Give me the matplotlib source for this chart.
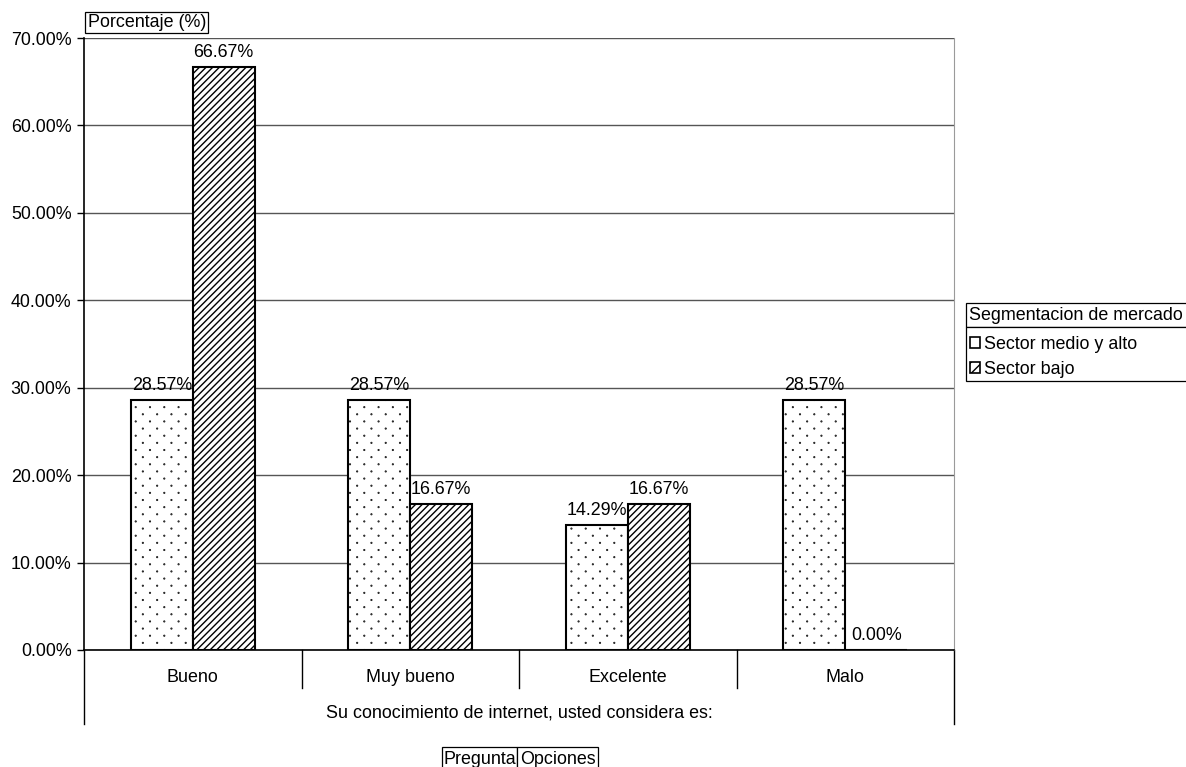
import matplotlib
matplotlib.use("Agg")
import numpy as np
import matplotlib.pyplot as plt
from matplotlib import hatch as mhatch
from matplotlib.path import Path
from matplotlib.patches import Patch, Rectangle
from matplotlib.lines import Line2D

plt.rcParams['font.family'] = ['Liberation Sans', 'DejaVu Sans']
plt.rcParams['hatch.linewidth'] = 1.0


class StaggeredDots(mhatch.HatchPatternBase):
    """Sparse staggered dot pattern for '.' (like the Excel dotted fill)."""
    def __init__(self, hatch, density):
        n = hatch.count('.')
        self.ncols = 7 * n
        self.nrows = 2 * self.ncols
        if n == 0:
            self.num_vertices = 0
            return
        circ = Path.unit_circle()
        self.shape_vertices = circ.vertices * 0.0035
        self.shape_codes = circ.codes
        npts = 0
        for row in range(self.nrows + 1):
            npts += (self.ncols + 1) if row % 2 == 0 else self.ncols
        self.num_vertices = npts * len(self.shape_vertices)

    def set_vertices_and_codes(self, vertices, codes):
        dx = 1.0 / self.ncols
        dy = 1.0 / self.nrows
        vparts, cparts = [], []
        for row in range(self.nrows + 1):
            if row % 2 == 0:
                cols = np.linspace(0, 1, self.ncols + 1)
            else:
                cols = np.linspace(dx / 2, 1 - dx / 2, self.ncols)
            for c in cols:
                vparts.append(self.shape_vertices + [c, row * dy])
                cparts.append(self.shape_codes)
        np.concatenate(vparts, out=vertices)
        np.concatenate(cparts, out=codes)


mhatch._hatch_types = [StaggeredDots if t is mhatch.SmallFilledCircles else t
                       for t in mhatch._hatch_types]

categories = ["Bueno", "Muy bueno", "Excelente", "Malo"]
series_names = ["Sector medio y alto", "Sector bajo"]
medio_alto = [28.57, 28.57, 14.29, 28.57]
bajo = [66.67, 16.67, 16.67, 0.00]
yticks = [0, 10, 20, 30, 40, 50, 60, 70]
ytick_labels = ["0.00%", "10.00%", "20.00%", "30.00%", "40.00%", "50.00%", "60.00%", "70.00%"]

W, H = 1186, 767
fig = plt.figure(figsize=(W / 100, H / 100), dpi=100)
L, R, T, B = 84, 954, 38, 650
ax = fig.add_axes([L / W, 1 - B / H, (R - L) / W, (B - T) / H])

FS = 12.9
x = list(range(len(categories)))
bw = 0.285
b1 = ax.bar([i - bw / 2 for i in x], medio_alto, width=bw, facecolor='white',
            edgecolor='black', linewidth=1.5, hatch='.', zorder=3)
b2 = ax.bar([i + bw / 2 for i in x], bajo, width=bw, facecolor='white',
            edgecolor='black', linewidth=1.5, hatch='/////', zorder=3)
ax.bar_label(b1, labels=[f"{v:.2f}%" for v in medio_alto], padding=4.5, fontsize=FS)
ax.bar_label(b2, labels=[f"{v:.2f}%" for v in bajo], padding=4.5, fontsize=FS)

ax.set_xlim(-0.5, len(categories) - 0.5)
ax.set_ylim(0, 70)
ax.set_yticks(yticks)
ax.set_yticklabels(ytick_labels, fontsize=FS)
ax.tick_params(axis='y', direction='out', length=5, width=1, pad=4)
ax.set_xticks([])
ax.yaxis.grid(True, color='#555555', linewidth=1.0, zorder=0)
ax.set_axisbelow(True)
ax.spines['top'].set_visible(False)
ax.spines['right'].set_color('#9a9a9a')
ax.spines['left'].set_linewidth(1.2)
ax.spines['bottom'].set_linewidth(1.2)

# Category area below the axis (pivot-chart style)
tr = ax.get_xaxis_transform()
ph = B - T
for k in range(len(categories) + 1):
    xb = -0.5 + k
    y_end = -(724 - B) / ph if k in (0, len(categories)) else -(688 - B) / ph
    ax.add_line(Line2D([xb, xb], [0, y_end], transform=tr, color='black',
                       linewidth=1.0, clip_on=False))
for i, c in enumerate(categories):
    ax.text(i, -(677 - B) / ph, c, transform=tr, ha='center', va='center', fontsize=FS)
ax.text((len(categories) - 1) / 2, -(713 - B) / ph,
        "Su conocimiento de internet, usted considera es:", transform=tr,
        ha='center', va='center', fontsize=FS)

# Field buttons
def fbox(x0, y0, x1, y1):
    fig.add_artist(Rectangle((x0 / W, 1 - y1 / H), (x1 - x0) / W, (y1 - y0) / H,
                             transform=fig.transFigure, facecolor='white',
                             edgecolor='black', linewidth=0.9, zorder=5))

fbox(85, 12, 208, 33)
fig.text(88 / W, 1 - 22.5 / H, "Porcentaje (%)", ha='left', va='center', fontsize=FS, zorder=6)
fbox(442, 747, 517, 772)
fbox(517, 747, 598, 772)
fig.text(479.5 / W, 1 - 759 / H, "Pregunta", ha='center', va='center', fontsize=FS, zorder=6)
fig.text(557.5 / W, 1 - 759 / H, "Opciones", ha='center', va='center', fontsize=FS, zorder=6)

# Legend
fbox(966, 303, 1192, 327)
fbox(966, 327, 1192, 381)
fig.text(969 / W, 1 - 315.5 / H, "Segmentacion de mercado", ha='left', va='center',
         fontsize=FS, zorder=6)
handles = [Patch(facecolor='white', edgecolor='black', hatch='', linewidth=1.2),
           Patch(facecolor='white', edgecolor='black', hatch='///', linewidth=1.2)]
leg = fig.legend(handles, series_names, loc='upper left',
                 bbox_to_anchor=(968 / W, 1 - 334 / H), borderaxespad=0,
                 fontsize=FS, frameon=False, borderpad=0.1,
                 handlelength=0.55, handleheight=0.55,
                 handletextpad=0.25, labelspacing=0.45)
leg.set_zorder(7)

fig.savefig("out.png", dpi=100)
